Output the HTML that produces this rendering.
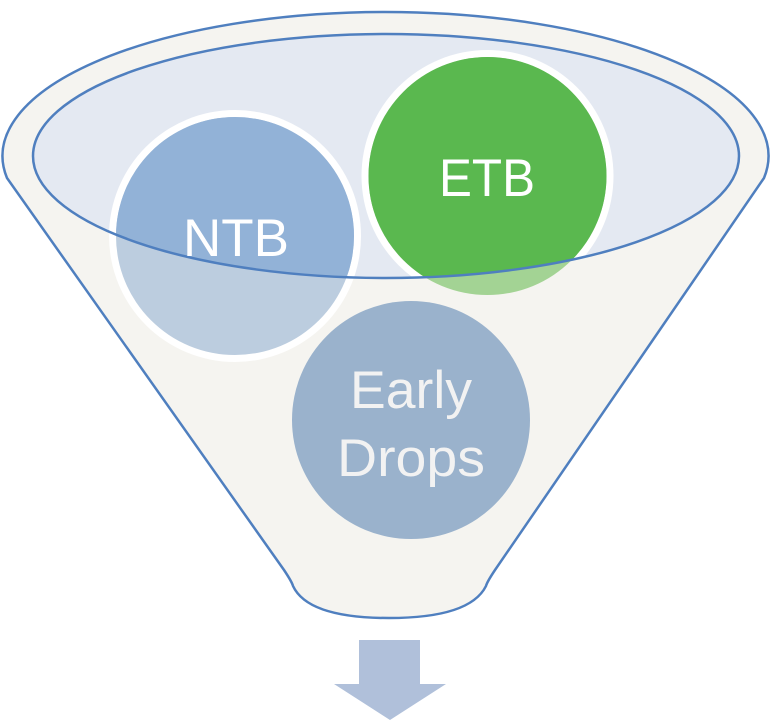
<!DOCTYPE html>
<html><head><meta charset="utf-8"><style>html,body{margin:0;padding:0;background:#fff}svg{display:block}</style></head>
<body>
<svg width="770" height="725" viewBox="0 0 770 725" xmlns="http://www.w3.org/2000/svg">
<defs>
<clipPath id="el"><ellipse cx="386" cy="156" rx="353" ry="122"/></clipPath>
</defs>
<path d="M7,178 A383,144 0 1 1 764,178 L495,570 Q487,582 486,586 Q470,618 389,618 Q308,618 293,586 Q292,582 284,570 Z" fill="#f5f4f0" stroke="#4f7fbf" stroke-width="2.5"/>
<ellipse cx="386" cy="156" rx="353" ry="122" fill="#e4e9f2"/>
<circle cx="411" cy="420" r="119" fill="#9ab2cc"/>
<circle cx="235" cy="236" r="126" fill="#fff"/>
<circle cx="235" cy="236" r="119" fill="#bccddf"/>
<circle cx="235" cy="236" r="119" fill="#92b2d7" clip-path="url(#el)"/>
<circle cx="487.5" cy="176" r="126" fill="#fff" clip-path="url(#el)"/>
<circle cx="487.5" cy="176" r="119" fill="#a3d394"/>
<circle cx="487.5" cy="176" r="119" fill="#5ab84f" clip-path="url(#el)"/>
<ellipse cx="386" cy="156" rx="353" ry="122" fill="none" stroke="#4f7fbf" stroke-width="2.5"/>
<g font-family="Liberation Sans, sans-serif" fill="#fff" text-anchor="middle" font-size="53">
<text x="236" y="256" textLength="106" lengthAdjust="spacingAndGlyphs">NTB</text>
<text x="487" y="196" textLength="96" lengthAdjust="spacingAndGlyphs">ETB</text>
<text x="411" y="408" fill="#f2f2f2" textLength="122" lengthAdjust="spacingAndGlyphs">Early</text>
<text x="411" y="476" fill="#f2f2f2" textLength="148" lengthAdjust="spacingAndGlyphs">Drops</text>
</g>
<path d="M359,640 H420 V684 H446 L390,720 L334,684 H359 Z" fill="#b0c0da"/>
</svg>
</body></html>
